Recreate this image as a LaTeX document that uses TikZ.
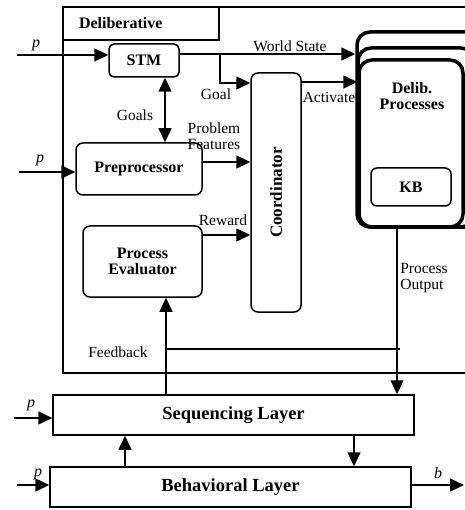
\documentclass[tikz,border=0pt]{standalone}
\usepackage{fontspec}
\setmainfont{Liberation Serif}
\usetikzlibrary{positioning,calc,arrows.meta}

\begin{document}
\begin{tikzpicture}[x=1pt,y=-1pt,
  font=\fontsize{15.5}{16}\selectfont,
  BX/.style={draw, line width=1.5pt, rounded corners=7pt, align=center,
             font=\fontsize{16}{18}\selectfont\bfseries, inner sep=0pt},
  LYR/.style={draw, line width=1.5pt, minimum width=361pt, minimum height=40pt,
              inner sep=0pt, font=\fontsize{18.5}{20}\selectfont\bfseries},
  DP/.style={draw, line width=3.5pt, rounded corners=13pt, fill=white, inner sep=0pt},
  ARR/.style={line width=1.5pt, -{Triangle[length=14pt,width=13pt]}},
  DARR/.style={line width=1.5pt, {Triangle[length=14pt,width=13pt]}-{Triangle[length=14pt,width=13pt]}},
  LN/.style={line width=1.1pt},
  LBL/.style={inner sep=0pt, align=left},
  PV/.style={font=\fontsize{16}{18}\selectfont\itshape}
]
\useasboundingbox (0,0) rectangle (464,510);

% deliberative layer
\node[draw, line width=1.5pt, minimum width=410pt, minimum height=366pt, inner sep=0pt]
  (dlb) at (268,190) {};
\node[draw, line width=1.5pt, minimum width=156pt, minimum height=33pt, inner xsep=16pt,
      inner ysep=0pt, text width=124pt, align=left, font=\fontsize{16}{18}\selectfont\bfseries]
  (tag) at (141,23.5) {Deliberative};

\node[BX, minimum width=70pt, minimum height=33pt, rounded corners=5pt] (stm) at (144,60.5) {STM};
\node[BX, minimum width=126pt, minimum height=52pt] (pre) at (139,169) {Preprocessor};
\node[BX, minimum width=119pt, minimum height=71pt] (pe) at (142.5,261.5) {Process\\[-2pt]Evaluator};
\node[BX, minimum width=50pt, minimum height=239pt, font=\fontsize{17}{18}\selectfont\bfseries]
  (crd) at (276,192.5) {\rotatebox{90}{Coordinator}};

% stacked processes
\node[DP, minimum width=124pt, minimum height=195pt] (dpc) at (419,129.5) {};
\node[DP, minimum width=116pt, minimum height=179pt] (dpb) at (416,137.5) {};
\node[DP, minimum width=104pt, minimum height=167pt] (dp) at (411,143.5) {};
\node[LBL, align=center, font=\fontsize{16}{18}\selectfont\bfseries] (dpt) at (412,96) {Delib.\\[-2pt]Processes};
\node[BX, minimum width=80pt, minimum height=38pt, rounded corners=6pt] (kb) at (411,187) {KB};

% layers
\node[LYR] (seq) at (233.5,415) {Sequencing Layer};
\node[LYR] (beh) at (230.5,487) {Behavioral Layer};

% inputs and output
\coordinate (in1) at (17,55);
\coordinate (in2) at (19,172);
\coordinate (in3) at (14,418);
\coordinate (in4) at (17,485);
\coordinate (out) at (464,485);
\draw[ARR] (in1) -- (in1 -| stm.west);
\draw[ARR] (in2) -- (in2 -| pre.west);
\draw[ARR] (in3) -- (in3 -| seq.west);
\draw[ARR] (in4) -- (in4 -| beh.west);
\draw[ARR] (out -| beh.east) -- (out);
\node[PV] (p1) at (36,45) {p};
\node[PV] (p2) at (40,160) {p};
\node[PV] (p3) at (31,405) {p};
\node[PV] (p4) at (38,474) {p};
\node[PV] (bo) at (438,473) {b};

% internal flow
\coordinate (ws) at (179,54);
\coordinate (gl) at (220,54);
\coordinate (gx) at (165,0);
\coordinate (yg) at (0,83);
\coordinate (ya) at (0,82);
\coordinate (yp) at (0,162);
\coordinate (yr) at (0,235);
\draw[ARR] (ws) -- (ws -| dpc.west);
\draw[ARR] (gl) |- (crd.west |- yg);
\draw[ARR] (crd.east |- ya) -- (dp.west |- ya);
\draw[DARR] (stm.south -| gx) -- (pre.north -| gx);
\draw[ARR] (pre.east |- yp) -- (crd.west |- yp);
\draw[ARR] (pe.east |- yr) -- (crd.west |- yr);
\node[LBL] (lws) at (290,46) {World State};
\node[LBL] (lgl) at (216,94) {Goal};
\node[LBL] (lac) at (329,97) {Activate};
\node[LBL] (lgo) at (135,115) {Goals};
\node[LBL] (lpf) at (214,136) {Problem\\Features};
\node[LBL] (lrw) at (223,220) {Reward};

% feedback and output
\coordinate (po) at (397,0);
\coordinate (fb) at (166,349);
\draw[LN, -{Triangle[length=14pt,width=13pt]}] (dp.south -| po) -- (seq.north -| po);
\draw[LN] (fb) -- (400,349);
\draw[ARR] (seq.north -| fb) -- (pe.south -| fb);
\node[LBL] (lpo) at (424,278) {Process\\Output};
\node[LBL] (lfb) at (118,352) {Feedback};

% between layers
\coordinate (ua) at (125,0);
\coordinate (da) at (354,0);
\draw[ARR] (beh.north -| ua) -- (seq.south -| ua);
\draw[ARR] (seq.south -| da) -- (beh.north -| da);
\end{tikzpicture}
\end{document}
